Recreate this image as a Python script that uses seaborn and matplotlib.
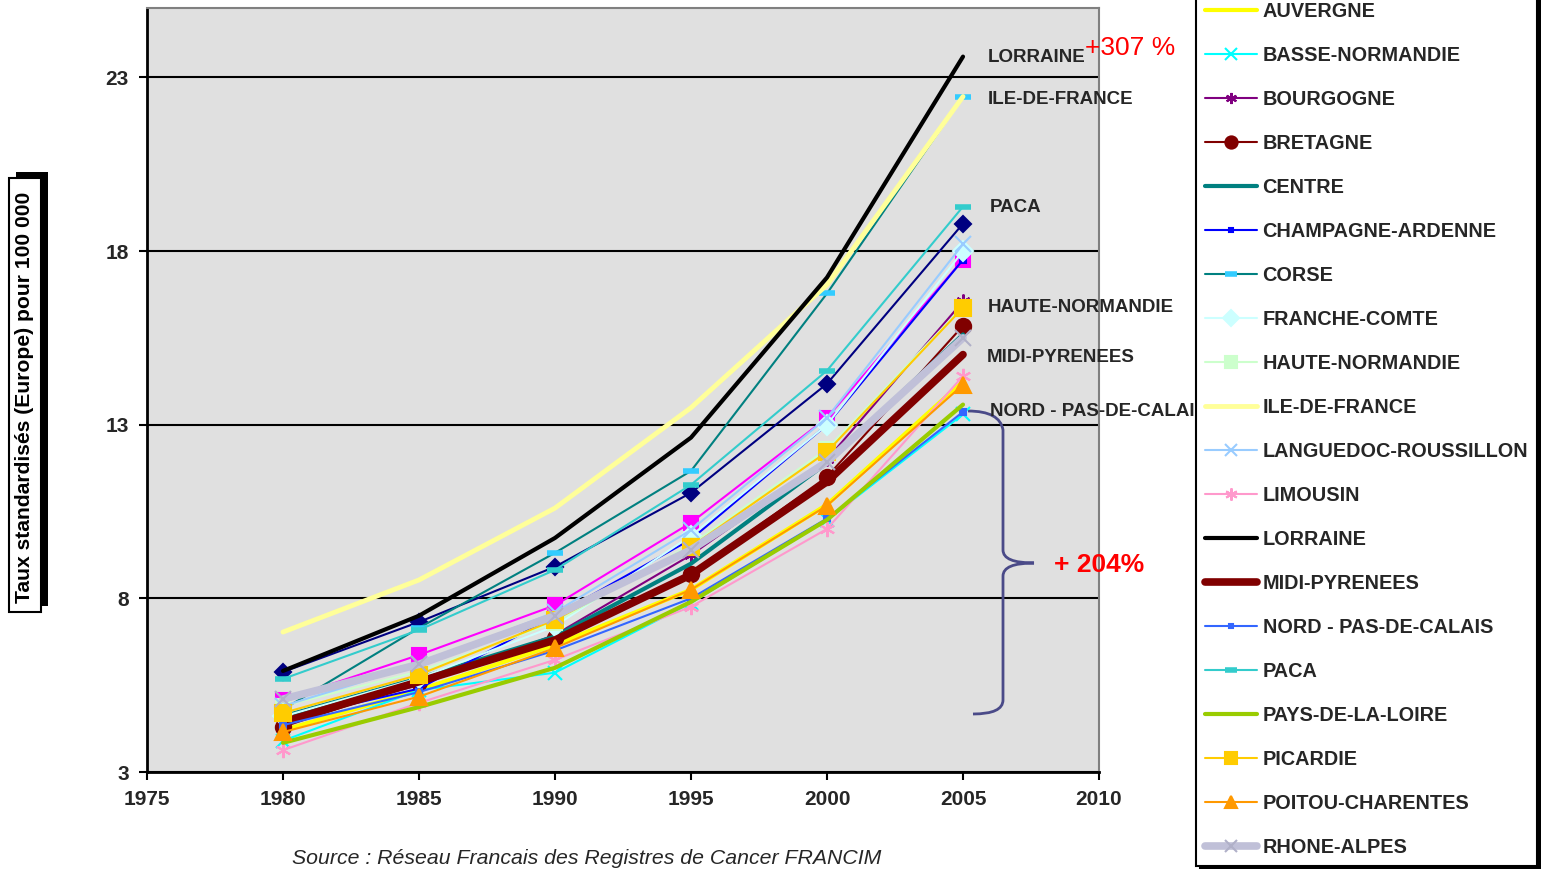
import matplotlib
matplotlib.use("Agg")
import matplotlib.pyplot as plt
import seaborn as sns
from matplotlib.path import Path
from matplotlib.patches import PathPatch, Rectangle

# Data (taux standardisés pour 100 000)
years = [1980, 1985, 1990, 1995, 2000, 2005]

alsace = [5.88, 7.32, 8.91, 11.04, 14.18, 18.79]
aquitaine = [5.07, 6.37, 7.80, 10.18, 13.20, 17.75]
auvergne = [4.20, 5.36, 6.66, 8.25, 10.70, 14.25]
basse_normandie = [3.90, 5.36, 5.86, 7.87, 10.26, 13.30]
bourgogne = [4.50, 5.50, 6.95, 9.25, 12.00, 16.55]
bretagne = [4.30, 5.60, 6.86, 8.70, 11.50, 15.85]
centre = [4.60, 5.70, 6.90, 9.00, 11.90, 15.60]
champagne = [4.50, 5.40, 7.50, 9.70, 13.00, 17.75]
corse = [4.80, 7.15, 9.31, 11.67, 16.78, 22.45]
franche_comte = [4.60, 5.70, 7.20, 9.80, 13.00, 18.00]
haute_normandie = [4.90, 5.90, 7.30, 9.55, 12.30, 16.40]
ile_de_france = [7.03, 8.53, 10.60, 13.49, 17.03, 22.45]
languedoc = [4.90, 6.10, 7.60, 9.97, 13.20, 18.20]
limousin = [3.63, 4.99, 6.23, 7.76, 10.00, 14.40]
lorraine = [5.91, 7.50, 9.74, 12.63, 17.24, 23.60]
midi_pyrenees = [4.44, 5.60, 6.80, 8.68, 11.36, 15.02]
nord = [4.35, 5.30, 6.50, 8.00, 10.30, 13.37]
paca = [5.68, 7.09, 8.82, 11.27, 14.56, 19.28]
pays_de_la_loire = [3.84, 4.87, 6.00, 7.90, 10.26, 13.58]
picardie = [4.70, 5.80, 7.38, 9.48, 12.22, 16.37]
poitou = [4.15, 5.17, 6.57, 8.25, 10.67, 14.15]
rhone_alpes = [5.10, 6.10, 7.50, 9.40, 11.93, 15.50]

# name, values, color, linewidth, marker, markersize, marker color
series = [
    ("ALSACE", alsace, "#000080", 1.5, "D", 8, "#000080"),
    ("AQUITAINE", aquitaine, "#FF00FF", 1.5, "s", 10, "#FF00FF"),
    ("AUVERGNE", auvergne, "#FFFF00", 3, None, 0, None),
    ("BASSE-NORMANDIE", basse_normandie, "#00FFFF", 1.5, "x", 10, "#00FFFF"),
    ("BOURGOGNE", bourgogne, "#800080", 1.5, (6, 2, 0), 10, "#800080"),
    ("BRETAGNE", bretagne, "#800000", 1.5, "o", 11, "#800000"),
    ("CENTRE", centre, "#008080", 3, None, 0, None),
    ("CHAMPAGNE-ARDENNE", champagne, "#0000FF", 1.5, "s", 4, "#0000FF"),
    ("CORSE", corse, "#008080", 1.5, "_", 11, "#33CCFF"),
    ("FRANCHE-COMTE", franche_comte, "#CCFFFF", 1.5, "D", 10, "#CCFFFF"),
    ("HAUTE-NORMANDIE", haute_normandie, "#CCFFCC", 1.5, "s", 10, "#CCFFCC"),
    ("ILE-DE-FRANCE", ile_de_france, "#FFFF99", 3.5, None, 0, None),
    ("LANGUEDOC-ROUSSILLON", languedoc, "#99CCFF", 1.5, "x", 11, "#99CCFF"),
    ("LIMOUSIN", limousin, "#FF99CC", 1.5, (6, 2, 0), 11, "#FF99CC"),
    ("LORRAINE", lorraine, "#000000", 3, None, 0, None),
    ("MIDI-PYRENEES", midi_pyrenees, "#800000", 5.5, None, 0, None),
    ("NORD - PAS-DE-CALAIS", nord, "#3366FF", 1.5, "s", 4, "#3366FF"),
    ("PACA", paca, "#33CCCC", 1.5, "_", 11, "#33CCCC"),
    ("PAYS-DE-LA-LOIRE", pays_de_la_loire, "#99CC00", 3, None, 0, None),
    ("PICARDIE", picardie, "#FFCC00", 1.5, "s", 11, "#FFCC00"),
    ("POITOU-CHARENTES", poitou, "#FF9900", 1.5, "^", 11, "#FF9900"),
    ("RHONE-ALPES", rhone_alpes, "#C0C0D8", 5.5, "x", 11, "#B0B0C8"),
]
# the first two legend rows fall outside the visible picture
hidden_in_legend = ["ALSACE", "AQUITAINE"]

sns.set_style("white")
plt.rcParams['font.family'] = ['Liberation Sans', 'DejaVu Sans']

W, H = 1541, 869
fig = plt.figure(figsize=(W / 100, H / 100), dpi=100)


def fx(px):
    return px / W


def fy(py):
    return 1 - py / H


ax = fig.add_axes([fx(147), fy(772), fx(1099) - fx(147), fy(8) - fy(772)])
ax.set_facecolor("#E0E0E0")

for name, vals, col, lw, mk, ms, mcol in series:
    kw = dict(color=col, linewidth=lw, label=name)
    if mk is not None:
        kw.update(marker=mk, markersize=ms, markerfacecolor=mcol, markeredgecolor=mcol,
                  markeredgewidth=4 if mk == "_" else 1.5)
    sns.lineplot(x=years, y=vals, ax=ax, **kw)

ax.set_xlim(1975, 2010)
ax.set_ylim(3, 25)
ax.set_xticks([1975, 1980, 1985, 1990, 1995, 2000, 2005, 2010])
ax.set_yticks([3, 8, 13, 18, 23])
ax.yaxis.grid(True, color="black", linewidth=1.5)
ax.xaxis.grid(False)
ax.set_axisbelow(True)
ax.set_xlabel("")
ax.set_ylabel("")
ax.tick_params(axis="both", direction="out", length=6, width=1.5, color="black",
               labelsize=15, pad=7, bottom=True, left=True)
for lab in ax.get_xticklabels() + ax.get_yticklabels():
    lab.set_fontweight("bold")
for s in ["left", "bottom"]:
    ax.spines[s].set_color("black")
    ax.spines[s].set_linewidth(2)
for s in ["top", "right"]:
    ax.spines[s].set_color("#808080")
    ax.spines[s].set_linewidth(1.5)

# labels at the end of the lines
end_labels = [
    ("LORRAINE", 988, 58), ("ILE-DE-FRANCE", 988, 100), ("PACA", 990, 207),
    ("HAUTE-NORMANDIE", 988, 308), ("MIDI-PYRENEES", 987, 357),
    ("NORD - PAS-DE-CALAIS", 990, 412),
]
for txt, px, py in end_labels:
    ax.text(fx(px), fy(py), txt, transform=fig.transFigure, fontsize=13.5,
            fontweight="bold", ha="left", va="center", clip_on=False)

ax.text(fx(1085), fy(48), "+307 %", transform=fig.transFigure, color="red",
        fontsize=19, ha="left", va="center", clip_on=False)
ax.text(fx(1054), fy(565), "+ 204%", transform=fig.transFigure, color="red",
        fontsize=19, fontweight="bold", ha="left", va="center", clip_on=False)

# brace grouping the lowest regions
bp = [(968, 411), (1000, 411), (1003, 430), (1003, 550), (1003, 563), (1034, 563),
      (1003, 563), (1003, 576), (1003, 700), (1003, 714), (973, 714)]
codes = [Path.MOVETO, Path.CURVE3, Path.CURVE3, Path.LINETO, Path.CURVE3, Path.CURVE3,
         Path.CURVE3, Path.CURVE3, Path.LINETO, Path.CURVE3, Path.CURVE3]
brace = Path([(fx(x), fy(y)) for x, y in bp], codes)
ax.add_patch(PathPatch(brace, transform=fig.transFigure, facecolor="none",
                       edgecolor="#4A4A88", linewidth=2, clip_on=False))

# legend
handles, labels = ax.get_legend_handles_labels()
if ax.get_legend() is not None:
    ax.get_legend().remove()
pairs = [(h, l) for h, l in zip(handles, labels) if l not in hidden_in_legend]
leg = fig.legend([p[0] for p in pairs], [p[1] for p in pairs], loc="lower left",
                 bbox_to_anchor=(fx(1196), fy(866)),
                 borderaxespad=0, frameon=True, fancybox=False, framealpha=1,
                 edgecolor="black", facecolor="white", prop={"weight": "bold", "size": 14.3},
                 labelspacing=1.26, handlelength=2.6, handletextpad=0.3, borderpad=0.45,
                 numpoints=1, markerscale=0.8,
                 shadow={"color": "black", "alpha": 1, "ox": 3, "oy": -2})
leg.get_frame().set_linewidth(1.5)

# boxed y label with shadow
fig.patches.append(Rectangle((fx(16), fy(606)), fx(32), fy(172) - fy(606),
                             transform=fig.transFigure, facecolor="black", edgecolor="none"))
fig.patches.append(Rectangle((fx(9), fy(612)), fx(32), fy(178) - fy(612),
                             transform=fig.transFigure, facecolor="white",
                             edgecolor="black", linewidth=1.5))
fig.text(fx(25), fy(397), "Taux standardisés (Europe) pour 100 000", rotation=90,
         ha="center", va="center", fontsize=15.2, fontweight="bold", color="black")

fig.text(fx(587), fy(859), "Source : Réseau Francais des Registres de Cancer FRANCIM",
         ha="center", va="center", fontsize=15.3, style="italic")

fig.savefig("out.png", dpi=100)
